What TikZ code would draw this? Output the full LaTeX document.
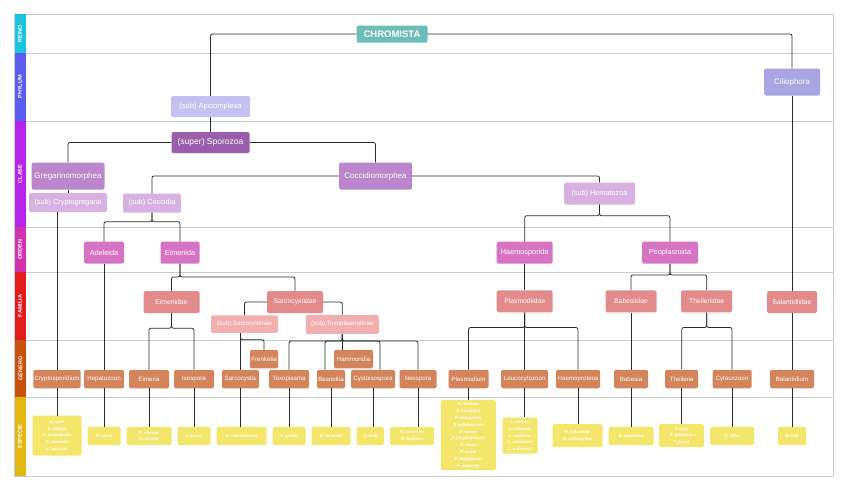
\documentclass[tikz,border=0pt]{standalone}
\usepackage{fontspec}
\setmainfont{Liberation Sans}
\usepackage{tikz}

\definecolor{cGrid}{HTML}{C9CED6}
\definecolor{cLine}{HTML}{2B2B2B}
\definecolor{cReino}{HTML}{1BC3DD}
\definecolor{cPhylum}{HTML}{5B5BF0}
\definecolor{cClaseB}{HTML}{B524E8}
\definecolor{cOrdenB}{HTML}{D133B0}
\definecolor{cFamiliaB}{HTML}{E31B1B}
\definecolor{cGeneroB}{HTML}{C9520B}
\definecolor{cEspecieB}{HTML}{E3B70F}
\definecolor{cChrom}{HTML}{6CBDB7}
\definecolor{cApic}{HTML}{C5C1F0}
\definecolor{cCilio}{HTML}{A8A5E2}
\definecolor{cSporo}{HTML}{9A5EAB}
\definecolor{cClase}{HTML}{BB86CB}
\definecolor{cSubclase}{HTML}{D8B1E3}
\definecolor{cOrden}{HTML}{D674C3}
\definecolor{cFamilia}{HTML}{E38A8A}
\definecolor{cSubfam}{HTML}{F2AFAF}
\definecolor{cGenero}{HTML}{D4845A}
\definecolor{cEspecie}{HTML}{F3E66A}

\begin{document}
\begin{tikzpicture}[x=1pt, y=-1pt,
    box/.style ={rounded corners=1.5pt, text=white, inner sep=1pt, align=center},
    band/.style ={rotate=90, text=white, inner sep=0pt, minimum height=11pt,
      font=\fontsize{5.5}{6}\selectfont\bfseries},
    reino/.style ={box, fill=cChrom, minimum width=71pt, minimum height=17pt,
      font=\fontsize{9.5}{10}\selectfont\bfseries},
    phylum/.style ={box, font=\fontsize{7.5}{8}\selectfont},
    clase/.style ={box, fill=cClase, font=\fontsize{8}{9}\selectfont},
    subclase/.style ={box, fill=cSubclase, minimum height=19pt, font=\fontsize{7.3}{8}\selectfont},
    orden/.style ={box, fill=cOrden, minimum height=22pt, font=\fontsize{7.3}{8}\selectfont},
    familia/.style ={box, fill=cFamilia, minimum height=22pt, font=\fontsize{6.8}{7.5}\selectfont},
    subfamilia/.style ={box, fill=cSubfam, minimum height=17.5pt, font=\fontsize{6.2}{7}\selectfont},
    genero/.style ={box, fill=cGenero, minimum height=18.5pt, font=\fontsize{6.2}{7}\selectfont},
    especie/.style ={box, fill=cEspecie, minimum height=18.3pt, font=\fontsize{4.3}{6.8}\selectfont\bfseries},
    conn/.style ={draw=cLine, line width=0.8pt, rounded corners=2pt},
    sep/.style ={draw=cGrid, line width=0.9pt}]
   \useasboundingbox (0,0) rectangle (848,490);
   % frame and rows
   \draw[sep] (14,14) rectangle (833,476);
   \draw[sep] (25,53) -- (833,53);
   \draw[sep] (25,121) -- (833,121);
   \draw[sep] (25,227) -- (833,227);
   \draw[sep] (25,272) -- (833,272);
   \draw[sep] (25,340) -- (833,340);
   \draw[sep] (25,397) -- (833,397);
   \node[band, fill=cReino, minimum width=39pt] (lReino) at (20,33.5) {REINO};
   \node[band, fill=cPhylum, minimum width=68pt] (lPhylum) at (20,87) {PHYLUM};
   \node[band, fill=cClaseB, minimum width=106pt] (lClase) at (20,174) {CLASE};
   \node[band, fill=cOrdenB, minimum width=45pt] (lOrden) at (20,249.5) {ORDEN};
   \node[band, fill=cFamiliaB, minimum width=68pt] (lFamilia) at (20,306) {FAMILIA};
   \node[band, fill=cGeneroB, minimum width=57pt] (lGenero) at (20,368.5) {GÉNERO};
   \node[band, fill=cEspecieB, minimum width=79pt] (lEspecie) at (20,436.5) {ESPECIE};

   % reino, phylum
   \node[reino] (chrom) at (392,34) {CHROMISTA};
   \node[phylum, fill=cApic, minimum width=79pt, minimum height=21pt] (apic) at (210.5,106.5) {(sub) Apicomplexa};
   \node[phylum, fill=cCilio, minimum width=56pt, minimum height=27pt,
     font=\fontsize{8}{9}\selectfont] (cilio) at (792,82) {Ciliophora};

   % clase
   \node[clase, fill=cSporo, minimum width=78pt, minimum height=21pt,
     font=\fontsize{8.5}{9}\selectfont] (sporo) at (210.5,142.5) {(super) Sporozoa};
   \node[clase, minimum width=73pt, minimum height=27pt] (greg) at (68,176) {Gregarinomorphea};
   \node[clase, minimum width=73pt, minimum height=27pt] (coccm) at (375.5,176) {Coccidiomorphea};
   \node[subclase, minimum width=78pt] (cryptog) at (68,202.5) {(sub) Cryptogregaria};
   \node[subclase, minimum width=58pt] (coccid) at (152,203) {(sub) Coccidia};
   \node[subclase, minimum width=71pt, minimum height=22pt] (hemat) at (599.5,193.5) {(sub) Hematozoa};

   % orden
   \node[orden, minimum width=40pt] (adel) at (104,252.7) {Adeleida};
   \node[orden, minimum width=39pt] (eimda) at (180,252.7) {Eimeriida};
   \node[orden, minimum width=56pt] (haemo) at (524.7,252.7) {Haemosporida};
   \node[orden, minimum width=56pt] (piro) at (670,252.7) {Piroplasmida};

   % familia
   \node[familia, minimum width=56pt] (eimdae) at (171.5,302) {Eimeriidae};
   \node[familia, minimum width=56pt] (sarcdae) at (295,302) {Sarcocystidae};
   \node[familia, minimum width=56pt] (plasdae) at (524.7,301.3) {Plasmodiidae};
   \node[familia, minimum width=51pt] (babdae) at (631,301.3) {Babesiidae};
   \node[familia, minimum width=51pt] (theidae) at (706.7,301.3) {Theileriidae};
   \node[familia, minimum width=50pt] (balndae) at (792,302) {Balantidiidae};
   \node[subfamilia, minimum width=67pt] (sarcin) at (244.5,324.2) {(sub) Sarcocystinae};
   \node[subfamilia, minimum width=73pt, minimum height=19pt] (toxin) at (342.3,324.3) {(sub) Toxoplasmatinae};

   % genero
   \node[genero, minimum width=28pt] (frenk) at (264,359) {Frenkelia};
   \node[genero, minimum width=39pt] (hamm) at (353.5,359) {Hammondia};
   \node[genero, minimum width=47pt] (crypto) at (57,379) {Cryptosporidium};
   \node[genero, minimum width=40pt] (hepat) at (104,379) {Hepatozoon};
   \node[genero, minimum width=40pt] (eimer) at (149,379) {Eimeria};
   \node[genero, minimum width=40pt] (isosp) at (194,379) {Isospora};
   \node[genero, minimum width=37pt] (sarcy) at (240.5,379) {Sarcocystis};
   \node[genero, minimum width=40pt] (toxo) at (289,379) {Toxoplasma};
   \node[genero, minimum width=28pt] (besn) at (331,379) {Besnoitia};
   \node[genero, minimum width=44pt] (cysto) at (373,379) {Cystoisospora};
   \node[genero, minimum width=37pt] (neosp) at (418,379) {Neospora};
   \node[genero, minimum width=40pt] (plasm) at (468.5,379) {Plasmodium};
   \node[genero, minimum width=47pt] (leuco) at (524.7,379) {Leucocytozoon};
   \node[genero, minimum width=44pt] (haemop) at (578,379) {Haemoproteus};
   \node[genero, minimum width=34pt] (babes) at (631,379) {Babesia};
   \node[genero, minimum width=33pt] (theil) at (681.7,379) {Theileria};
   \node[genero, minimum width=39pt] (cytaux) at (732,379) {Cytauxzoon};
   \node[genero, minimum width=44pt] (balan) at (792,379) {Balantidium};

   % especie
   \node[especie, minimum width=49pt, minimum height=40pt] (spCrypto) at (57,435.7)
     {C. galli\\C. baileyi\\C. meleagridis\\C. hominis\\c. parvum};
   \node[especie, minimum width=33pt] (spHepat) at (104,436) {H. canis};
   \node[especie, minimum width=45pt] (spEimer) at (149,436) {E. stiedae\\E. tenella};
   \node[especie, minimum width=33pt] (spIsosp) at (194,436) {I. serini};
   \node[especie, minimum width=50pt] (spSarcy) at (241.7,436) {S. miescherana};
   \node[especie, minimum width=33pt] (spToxo) at (289,436) {T. gondii};
   \node[especie, minimum width=39pt] (spBesn) at (331,436) {B. besnoiti};
   \node[especie, minimum width=27pt] (spCysto) at (370.3,436) {C. belli};
   \node[especie, minimum width=44pt] (spNeosp) at (412,436) {N. caninum\\N. hughesi};
   \node[especie, minimum width=55pt, minimum height=70pt] (spPlasm) at (468.3,435)
     {P. relictum\\P. vaughani\\P. elongatum\\P. gallinaceum\\P. durae\\P. juxyanucleare\\P. vivax\\P. ovale\\P. falciparum\\P. malariae};
   \node[especie, minimum width=35pt, minimum height=36pt] (spLeuco) at (520,435.5)
     {L. smithi\\L. simondi\\L. caulleryi\\L. sabrazesi\\L. andrewsi};
   \node[especie, minimum width=50pt, minimum height=23pt] (spHaemop) at (577.5,435.7) {H. columbae\\H. meleagridis};
   \node[especie, minimum width=45pt] (spBabes) at (631,436) {B. bigemina};
   \node[especie, minimum width=45pt, minimum height=23pt] (spTheil) at (681.5,435.7) {T. equi\\T. annulata\\T. parva};
   \node[especie, minimum width=44pt] (spCytaux) at (732,436) {C. felis};
   \node[especie, minimum width=28pt] (spBalan) at (792,436) {B. coli};

   % connectors
   \draw[conn] (chrom.west) -| (apic.north);
   \draw[conn] (chrom.east) -| (cilio.north);
   \draw[conn] (apic) -- (sporo);
   \draw[conn] (sporo.west) -| (greg.north);
   \draw[conn] (sporo.east) -| (coccm.north);
   \draw[conn] (greg) -- (cryptog);
   \draw[conn] (cryptog.south -| crypto.north) -- (crypto.north);
   \draw[conn] (coccm.west) -| (coccid.north);
   \draw[conn] (coccm.east) -| (hemat.north);
   \draw[conn] (coccid.south) -- ++(0,9) -| (adel.north);
   \draw[conn] (coccid.south) -- ++(0,9) -| (eimda.north);
   \draw[conn] (hemat.south) -- ++(0,11) -| (haemo.north);
   \draw[conn] (hemat.south) -- ++(0,11) -| (piro.north);
   \draw[conn] (cilio) -- (balndae);
   \draw[conn] (adel) -- (hepat);
   \draw[conn] (eimda.south) -- ++(0,13) -| (eimdae.north);
   \draw[conn] (eimda.south) -- ++(0,13) -| (sarcdae.north);
   \draw[conn] (haemo) -- (plasdae);
   \draw[conn] (piro.south) -- ++(0,11) -| (babdae.north);
   \draw[conn] (piro.south) -- ++(0,11) -| (theidae.north);
   \draw[conn] (sarcdae.west) -| (sarcin.north);
   \draw[conn] (sarcdae.east) -| (toxin.north);
   \draw[conn] (eimdae.south) -- ++(0,15) -| (eimer.north);
   \draw[conn] (eimdae.south) -- ++(0,15) -| (isosp.north);
   \draw[conn] (plasdae.south) -- ++(0,15) -| (plasm.north);
   \draw[conn] (plasdae) -- (leuco);
   \draw[conn] (plasdae.south) -- ++(0,15) -| (haemop.north);
   \draw[conn] (babdae) -- (babes);
   \draw[conn] (theidae.south) -- ++(0,15) -| (theil.north);
   \draw[conn] (theidae.south) -- ++(0,15) -| (cytaux.north);
   \draw[conn] (balndae) -- (balan);
   \draw[conn] (sarcin.south -| sarcy.north) -- (sarcy.north);
   \draw[conn] (sarcin.south -| sarcy.north) -- ++(0,6.5) -| (frenk.north);
   \draw[conn] (toxin.south) -- ++(0,7) -| (toxo.north);
   \draw[conn] (toxin.south) -- ++(0,7) -| ([xshift=-6pt]besn.north);
   \draw[conn] (toxin.south) -- (toxin.south |- hamm.north);
   \draw[conn] (toxin.south) -- ++(0,7) -| ([xshift=7pt]cysto.north);
   \draw[conn] (toxin.south) -- ++(0,7) -| (neosp.north);
   % genero to especie
   \draw[conn] (crypto.south) -- (crypto.south |- spCrypto.north);
   \draw[conn] (hepat.south) -- (hepat.south |- spHepat.north);
   \draw[conn] (eimer.south) -- (eimer.south |- spEimer.north);
   \draw[conn] (isosp.south) -- (isosp.south |- spIsosp.north);
   \draw[conn] (sarcy.south) -- (sarcy.south |- spSarcy.north);
   \draw[conn] (toxo.south) -- (toxo.south |- spToxo.north);
   \draw[conn] (besn.south) -- (besn.south |- spBesn.north);
   \draw[conn] (cysto.south) -- (cysto.south |- spCysto.north);
   \draw[conn] (neosp.south) -- (neosp.south |- spNeosp.north);
   \draw[conn] (plasm.south) -- (plasm.south |- spPlasm.north);
   \draw[conn] (leuco.south) -- (leuco.south |- spLeuco.north);
   \draw[conn] (haemop.south) -- (haemop.south |- spHaemop.north);
   \draw[conn] (babes.south) -- (babes.south |- spBabes.north);
   \draw[conn] (theil.south) -- (theil.south |- spTheil.north);
   \draw[conn] (cytaux.south) -- (cytaux.south |- spCytaux.north);
   \draw[conn] (balan.south) -- (balan.south |- spBalan.north);
\end{tikzpicture}
\end{document}
